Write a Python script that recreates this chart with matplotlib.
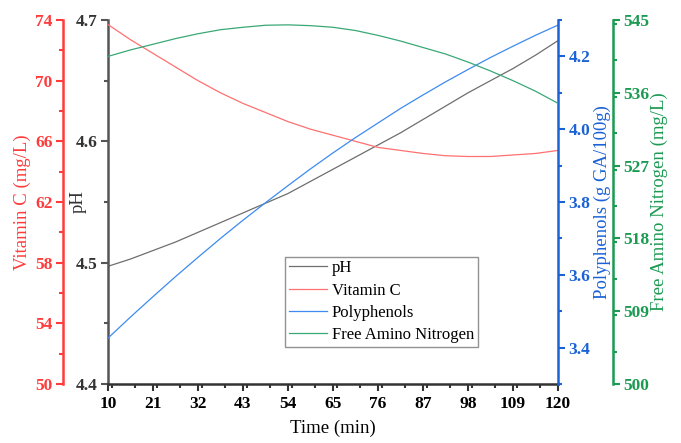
import matplotlib
matplotlib.use("Agg")
import matplotlib.pyplot as plt
from matplotlib.ticker import MultipleLocator, FixedLocator, FormatStrFormatter

# values, every 5.5 min
time_min = [10, 15.5, 21, 26.5, 32, 37.5, 43, 48.5, 54, 59.5, 65,
            70.5, 76, 81.5, 87, 92.5, 98, 103.5, 109, 114.5, 120]
ph = [4.497, 4.503, 4.510, 4.517, 4.525, 4.533, 4.541, 4.549, 4.557, 4.567, 4.577,
      4.587, 4.597, 4.607, 4.618, 4.629, 4.640, 4.650, 4.660, 4.671, 4.683]
vitamin_c = [73.7, 72.7, 71.8, 70.9, 70.0, 69.2, 68.5, 67.9, 67.3, 66.8, 66.4,
             66.0, 65.6, 65.4, 65.2, 65.05, 65.0, 65.0, 65.1, 65.2, 65.4]
polyphenols = [3.426, 3.484, 3.540, 3.595, 3.648, 3.700, 3.750, 3.798, 3.845, 3.891, 3.935,
               3.977, 4.017, 4.057, 4.094, 4.130, 4.164, 4.197, 4.228, 4.258, 4.286]
fan = [540.5, 541.3, 542.0, 542.7, 543.3, 543.8, 544.1, 544.35, 544.4, 544.3, 544.1,
       543.7, 543.1, 542.4, 541.6, 540.8, 539.8, 538.7, 537.5, 536.2, 534.7]

x_ticks = [10, 21, 32, 43, 54, 65, 76, 87, 98, 109, 120]
ph_ticks = [4.4, 4.5, 4.6, 4.7]
vc_ticks = [50, 54, 58, 62, 66, 70, 74]
pp_ticks = [3.4, 3.6, 3.8, 4.0, 4.2]
fan_ticks = [500, 509, 518, 527, 536, 545]

C_PH_LINE, C_PH_AX = "#6e6e6e", "#555555"
C_VC_LINE, C_VC_AX = "#ff7070", "#ff3b3b"
C_PP_LINE, C_PP_AX = "#3d8bf0", "#1a62d6"
C_FAN_LINE, C_FAN_AX = "#3aa876", "#1b9a52"

plt.rcParams["font.family"] = ["Liberation Serif", "DejaVu Serif"]

fig = plt.figure(figsize=(6.81, 4.43), dpi=100)
ax = fig.add_axes([108 / 681, 1 - 384 / 443, 450 / 681, 364 / 443])
ax_vc = ax.twinx()
ax_pp = ax.twinx()
ax_fan = ax.twinx()

TICK_KW = dict(direction="out", width=1.5)
TICK_SIZE = 12.5


def style_axis(a, side, color, tick_color, label, lims, minor, fixed, offset=0, pad=3):
    for s in a.spines.values():
        s.set_visible(False)
    sp = a.spines[side]
    sp.set_visible(True)
    sp.set_color(color)
    sp.set_linewidth(1.8)
    if offset:
        sp.set_position(("outward", offset))
    a.yaxis.set_ticks_position(side)
    a.yaxis.set_label_position(side)
    a.set_ylim(*lims)
    a.yaxis.set_major_locator(FixedLocator(fixed))
    a.yaxis.set_minor_locator(MultipleLocator(minor))
    a.tick_params(axis="y", which="major", length=5, colors=color, labelcolor=tick_color,
                  labelsize=TICK_SIZE, pad=2.5, **TICK_KW)
    a.tick_params(axis="y", which="minor", length=3, colors=color, **TICK_KW)
    for t in a.get_yticklabels():
        t.set_fontweight("bold")
    a.set_ylabel(label, color=tick_color, fontsize=13.5, labelpad=pad)


# pH host axis
l1, = ax.plot(time_min, ph, color=C_PH_LINE, lw=0.9, label="pH")
style_axis(ax, "left", C_PH_AX, "#333333", "pH", (4.4, 4.7), 0.05, ph_ticks)
ax.yaxis.set_major_formatter(FormatStrFormatter("%.1f"))
ax.yaxis.set_label_coords(-0.047, 0.5)
ax.spines["bottom"].set_visible(True)
ax.spines["bottom"].set_color("#333333")
ax.spines["bottom"].set_linewidth(1.8)
ax.set_xlim(10, 120)
ax.xaxis.set_major_locator(FixedLocator(x_ticks))
ax.xaxis.set_minor_locator(MultipleLocator(5.5))
ax.tick_params(axis="x", which="major", length=5, colors="#333333", labelcolor="black",
               labelsize=TICK_SIZE, **TICK_KW)
ax.tick_params(axis="x", which="minor", length=3, colors="#333333", **TICK_KW)
for t in ax.get_xticklabels():
    t.set_fontweight("bold")
ax.set_xlabel("Time (min)", fontsize=13.5, labelpad=6)

# Vitamin C
l2, = ax_vc.plot(time_min, vitamin_c, color=C_VC_LINE, lw=0.9, label="Vitamin C")
style_axis(ax_vc, "left", C_VC_AX, C_VC_AX, "Vitamin C (mg/L)", (50, 74), 2,
           vc_ticks, offset=32.5)

# Polyphenols
l3, = ax_pp.plot(time_min, polyphenols, color=C_PP_LINE, lw=0.9, label="Polyphenols")
style_axis(ax_pp, "right", C_PP_AX, C_PP_AX, "Polyphenols (g GA/100g)", (3.3, 4.3), 0.1,
           pp_ticks, pad=2)
ax_pp.yaxis.set_major_formatter(FormatStrFormatter("%.1f"))

# Free amino nitrogen
l4, = ax_fan.plot(time_min, fan, color=C_FAN_LINE, lw=0.9, label="Free Amino Nitrogen")
style_axis(ax_fan, "right", C_FAN_AX, C_FAN_AX, "Free Amino Nitrogen (mg/L)", (500, 545), 4.5,
           fan_ticks, offset=39.5, pad=1)

leg = ax_fan.legend(handles=[l1, l2, l3, l4], loc="lower left", bbox_to_anchor=(0.393, 0.102),
                    borderaxespad=0, fontsize=12, frameon=True, fancybox=False,
                    handlelength=2.3, handletextpad=0.3, borderpad=0.22, labelspacing=0.38)
leg.get_frame().set_edgecolor("#777777")
leg.get_frame().set_linewidth(1.0)

fig.savefig("out.png", dpi=100)
